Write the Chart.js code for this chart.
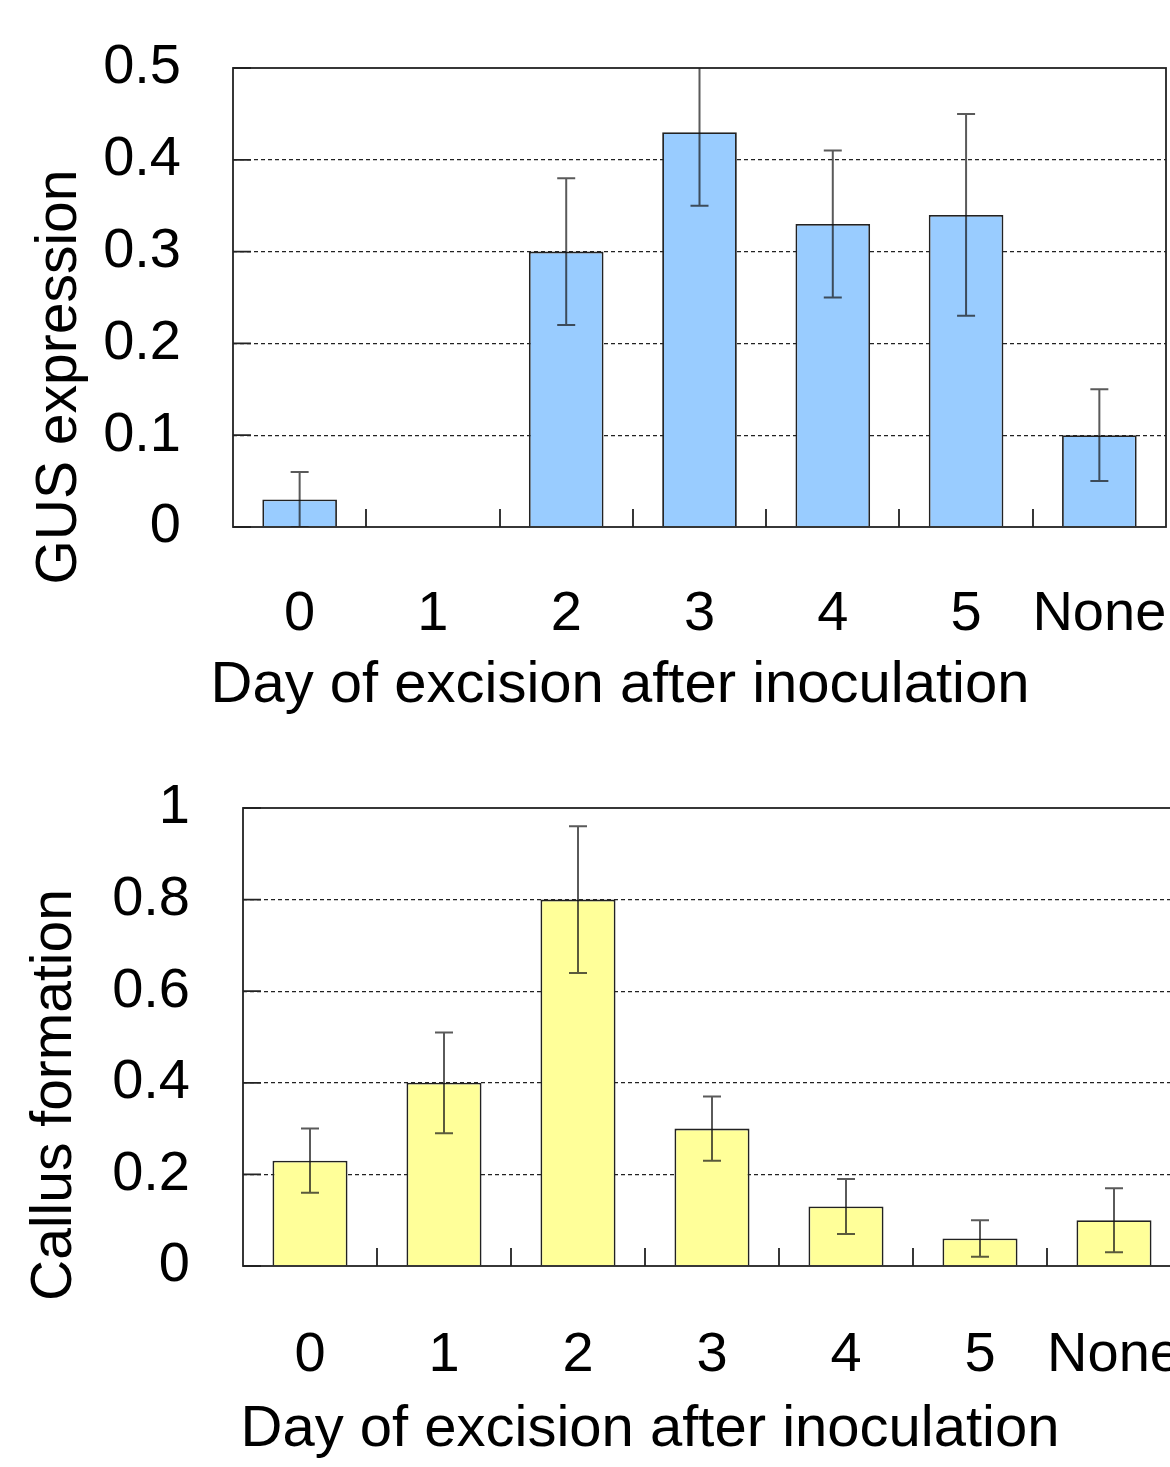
<!DOCTYPE html>
<html>
<head>
<meta charset="utf-8">
<script src="https://cdn.jsdelivr.net/npm/chart.js@4.4.0/dist/chart.umd.min.js"></script>
<style>
  html, body { margin: 0; padding: 0; background: #fff; overflow: hidden; }
  canvas { position: absolute; left: 0; }
  #gusChart { top: 0; }
  #callusChart { top: 740px; }
</style>
</head>
<body>
<canvas id="gusChart" width="1200" height="740"></canvas>
<canvas id="callusChart" width="1220" height="727"></canvas>
<script>
'use strict';

const DAYS = ['0', '1', '2', '3', '4', '5', 'None'];
const GUS_VALUES = [0.03, 0, 0.30, 0.43, 0.33, 0.34, 0.10];
const GUS_ERRORS = [0.03, 0, 0.08, 0.08, 0.08, 0.11, 0.05];
const CALLUS_VALUES = [0.23, 0.40, 0.80, 0.30, 0.13, 0.06, 0.10];
const CALLUS_ERRORS = [0.07, 0.11, 0.16, 0.07, 0.06, 0.04, 0.07];
const X_TITLE = 'Day of excision after inoculation';

const FONT = '"Liberation Sans", Arial, sans-serif';
const INK = '#222';

// box, inner ticks, error bars and the two axis titles
const frame = {
    id: 'frame',
    afterDatasetsDraw(chart, args, opts) {
        const {ctx, chartArea: a, scales: {x, y}} = chart;
        const errors = chart.data.datasets[0].errors;
        const values = chart.data.datasets[0].data;

        ctx.save();
        ctx.strokeStyle = INK;
        ctx.lineWidth = 1.8;
        ctx.beginPath();
        for (let i = 1; i < values.length; i++) {
            const px = Math.round((x.getPixelForValue(i - 1) + x.getPixelForValue(i)) / 2);
            ctx.moveTo(px, a.bottom);
            ctx.lineTo(px, a.bottom - 18);
        }
        y.ticks.forEach(t => {
            const py = y.getPixelForValue(t.value);
            ctx.moveTo(a.left, py);
            ctx.lineTo(a.left + 18, py);
        });
        ctx.stroke();

        ctx.save();
        ctx.beginPath();
        ctx.rect(a.left, a.top, a.right - a.left, a.bottom - a.top);
        ctx.clip();
        ctx.strokeStyle = 'rgba(20,20,20,0.7)';
        ctx.lineWidth = 2;
        values.forEach((v, i) => {
            if (!errors[i]) return;
            const px = x.getPixelForValue(i);
            const hi = y.getPixelForValue(v + errors[i]);
            const lo = y.getPixelForValue(Math.max(0, v - errors[i]));
            ctx.beginPath();
            ctx.moveTo(px, hi); ctx.lineTo(px, lo);
            ctx.moveTo(px - 9, hi); ctx.lineTo(px + 9, hi);
            ctx.moveTo(px - 9, lo); ctx.lineTo(px + 9, lo);
            ctx.stroke();
        });
        ctx.restore();

        ctx.strokeRect(a.left, a.top, a.right - a.left, a.bottom - a.top);

        ctx.fillStyle = '#000';
        ctx.font = `58px ${FONT}`;
        ctx.textAlign = 'center';
        ctx.textBaseline = 'middle';
        ctx.fillText(X_TITLE, opts.xTitleX, opts.xTitleY);
        ctx.translate(opts.yTitleX, opts.yTitleY);
        ctx.rotate(-Math.PI / 2);
        ctx.font = `57px ${FONT}`;
        ctx.fillText(opts.yTitle, 0, 0);
        ctx.restore();
    }
};

let noOverflow = s => {
    s.paddingTop = 0; s.paddingBottom = 0; s.paddingLeft = 0; s.paddingRight = 0;
};

let barChart = (id, values, errors, color, yMax, step, yTitle, layout) => {
    return new Chart(document.getElementById(id), {
        type: 'bar',
        data: {
            labels: DAYS,
            datasets: [{
                data: values,
                errors: errors,
                backgroundColor: color,
                borderColor: INK,
                borderWidth: 1.8,
                categoryPercentage: 1,
                barPercentage: 0.56
            }]
        },
        options: {
            responsive: false,
            animation: false,
            layout: {padding: {top: layout.top, right: layout.right, left: 0, bottom: 0}},
            plugins: {
                legend: {display: false},
                tooltip: {enabled: false},
                frame: {
                    yTitle: yTitle,
                    xTitleX: layout.xTitleX, xTitleY: layout.xTitleY,
                    yTitleX: layout.yTitleX, yTitleY: layout.yTitleY
                }
            },
            scales: {
                x: {
                    grid: {display: false},
                    border: {display: false},
                    ticks: {
                        color: '#000', font: {family: FONT, size: 56}, padding: layout.xPad,
                        autoSkip: false, maxRotation: 0, minRotation: 0
                    },
                    afterFit: s => { s.height = layout.xHeight; noOverflow(s); }
                },
                y: {
                    min: 0,
                    max: yMax,
                    grid: {
                        drawTicks: false,
                        lineWidth: 1.2,
                        color: c => (c.tick.value === 0 || c.tick.value === yMax) ? 'rgba(0,0,0,0)' : '#222'
                    },
                    border: {display: false, dash: [4, 3]},
                    ticks: {
                        stepSize: step, color: '#000', font: {family: FONT, size: 56}, padding: layout.yPad,
                        callback: v => String(+v.toFixed(1))
                    },
                    afterFit: s => { s.width = layout.yWidth; noOverflow(s); }
                }
            }
        },
        plugins: [frame]
    });
};

window.onload = () => {
    barChart('gusChart', GUS_VALUES, GUS_ERRORS, '#99CCFF', 0.5, 0.1, 'GUS expression',
        {top: 68, right: 34, xHeight: 213, xPad: 46, yWidth: 233, yPad: 52,
         xTitleX: 620, xTitleY: 686, yTitleX: 60, yTitleY: 377});
    barChart('callusChart', CALLUS_VALUES, CALLUS_ERRORS, '#FFFF99', 1, 0.2, 'Callus formation',
        {top: 68, right: 39, xHeight: 201, xPad: 48, yWidth: 243, yPad: 53,
         xTitleX: 650, xTitleY: 690, yTitleX: 55, yTitleY: 355});
};
</script>
</body>
</html>
